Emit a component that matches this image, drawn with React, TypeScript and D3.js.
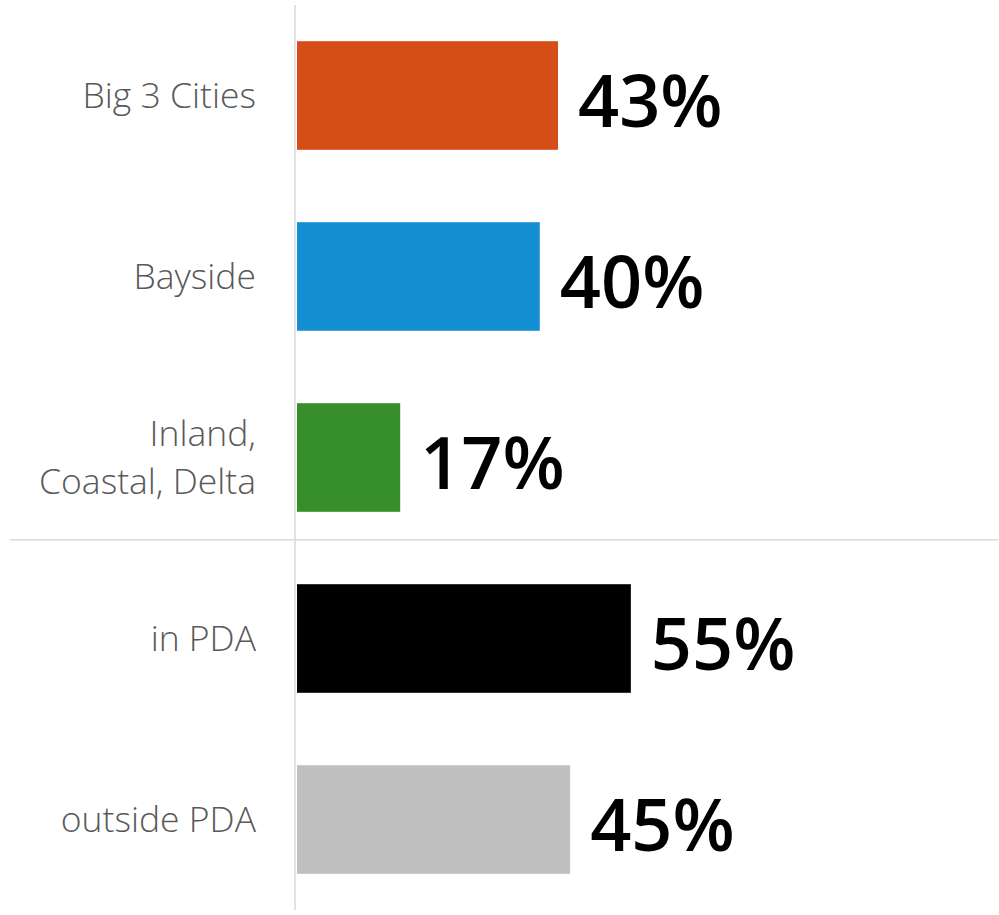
import React from "react";
import * as d3 from "d3";

const categories = ["Big 3 Cities", "Bayside", "Inland,\nCoastal, Delta", "in PDA", "outside PDA"];
const values = [43, 40, 17, 55, 45];
const colors = ["#D64E17", "#148FD4", "#368F2B", "#000000", "#C0C0C0"];
const valueLabels = ["43%", "40%", "17%", "55%", "45%"];

const W = 999;
const H = 915;

export default function App() {
  const y = d3.scaleBand<string>().domain(categories).range([5, 910]).paddingInner(0.4).paddingOuter(0.2);
  const x = d3.scaleLinear().domain([0, 100]).range([297, 904]);
  const bw = y.bandwidth();
  const sepY = (y(categories[3]) as number) - y.step() * 0.245;
  return (
    <svg width={W} height={H} style={{ position: "absolute", left: 0, top: 0, background: "#fff" }}>
      <line x1={10} x2={998} y1={sepY} y2={sepY} stroke="#d9d9d9" strokeWidth={1.5} />
      <line x1={295} x2={295} y1={5} y2={910} stroke="#d9d9d9" strokeWidth={1.5} />
      {categories.map((c, i) => {
        const y0 = y(c) as number;
        const cy = y0 + bw / 2;
        const lines = c.split("\n");
        const lh = 48;
        return (
          <g key={c}>
            <rect x={x(0)} y={y0} width={x(values[i]) - x(0)} height={bw} fill={colors[i]} />
            <text
              x={256}
              textAnchor="end"
              fontFamily="'Open Sans', sans-serif"
              fontWeight={300}
              fontSize={35.5}
              fill="#595959"
            >
              {lines.map((l, j) => (
                <tspan key={j} x={256} y={cy + 12 + (j - (lines.length - 1) / 2) * lh}>
                  {l}
                </tspan>
              ))}
            </text>
            <text
              x={x(values[i]) + 20}
              y={cy + 31}
              fontFamily="'Open Sans', sans-serif"
              fontWeight={600}
              fontSize={72}
              fill="#000"
            >
              {valueLabels[i]}
            </text>
          </g>
        );
      })}
    </svg>
  );
}
